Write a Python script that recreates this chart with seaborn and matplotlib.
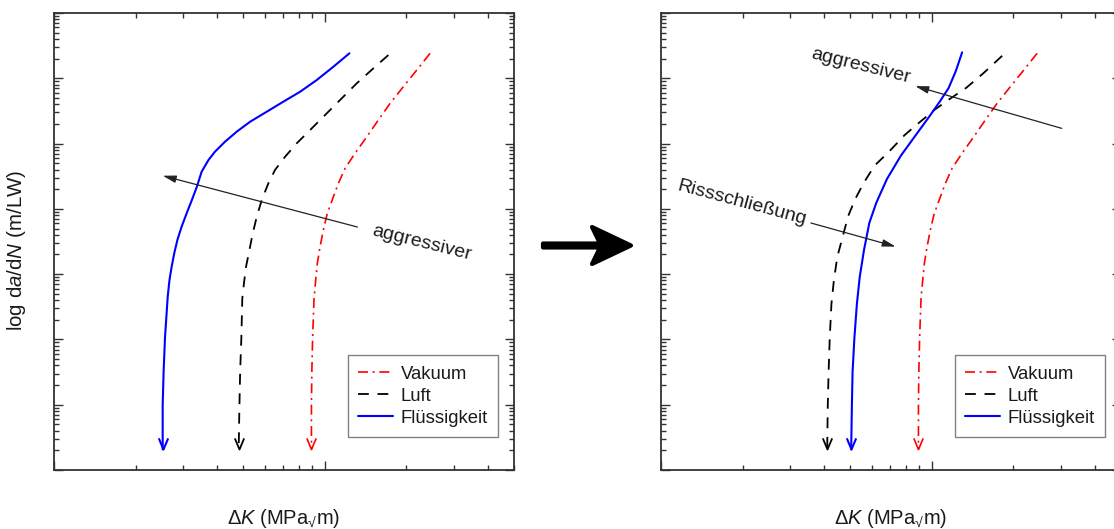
import numpy as np
import pandas as pd
import matplotlib
matplotlib.use("Agg")
import matplotlib.pyplot as plt
import seaborn as sns
from matplotlib.path import Path
from matplotlib.patches import Polygon
from matplotlib.ticker import LogLocator, NullFormatter

sns.set_theme(style="ticks")
plt.rcParams["font.family"] = ["Liberation Sans", "DejaVu Sans"]
plt.rcParams["mathtext.fontset"] = "custom"
plt.rcParams["mathtext.rm"] = "Liberation Sans"
plt.rcParams["mathtext.it"] = "Liberation Sans:italic"
plt.rcParams["mathtext.bf"] = "Liberation Sans:bold"

# ---- data: ΔK in MPa√m, da/dN in m/LW ----
media = ["Vakuum", "Luft", "Flüssigkeit"]

# Vakuum (identical in both panels)
vakuum_dk = [24.49, 21.87, 19.51, 17.43, 15.78, 14.30, 12.94, 11.89, 11.23,
             10.71, 10.22, 9.88, 9.61, 9.39, 9.26, 9.13, 9.02, 8.96, 8.93, 8.93]
vakuum_dadn = [2.41e-5, 1.336e-5, 7.43e-6, 4.13e-6, 2.30e-6, 1.274e-6,
               7.10e-7, 4.18e-7, 2.46e-7, 1.449e-7, 8.55e-8, 4.74e-8, 2.63e-8,
               1.466e-8, 8.13e-9, 4.27e-9, 1.06e-9, 3.21e-10, 9.75e-11, 2.07e-11]

# left panel: without crack closure
luft_dk_a = [17.18, 15.12, 13.13, 11.39, 10.03, 8.83, 7.88, 7.14, 6.55, 6.19,
             5.85, 5.61, 5.42, 5.27, 5.12, 5.03, 4.96, 4.92, 4.87, 4.84, 4.81]
luft_dadn_a = [2.27e-5, 1.419e-5, 8.38e-6, 4.65e-6, 2.74e-6, 1.614e-6,
               1.009e-6, 6.30e-7, 3.94e-7, 2.46e-7, 1.365e-7, 7.59e-8, 4.22e-8,
               2.34e-8, 1.30e-8, 7.24e-9, 4.27e-9, 1.06e-9, 3.21e-10, 9.75e-11,
               2.07e-11]
fluessig_dk_a = [12.33, 10.76, 9.34, 8.11, 7.03, 6.11, 5.30, 4.73, 4.28, 3.93,
                 3.72, 3.51, 3.37, 3.23, 3.09, 2.96, 2.855, 2.78, 2.72, 2.67,
                 2.63, 2.57, 2.54, 2.52, 2.52]
fluessig_dadn_a = [2.41e-5, 1.503e-5, 9.40e-6, 6.22e-6, 4.38e-6, 3.08e-6,
                   2.16e-6, 1.521e-6, 1.067e-6, 7.50e-7, 5.60e-7, 3.71e-7,
                   2.18e-7, 1.365e-7, 8.55e-8, 5.32e-8, 3.33e-8, 2.08e-8,
                   1.30e-8, 8.13e-9, 4.51e-9, 1.06e-9, 3.21e-10, 9.75e-11,
                   2.07e-11]

# right panel: with crack closure
luft_dk_b = [18.2, 15.6, 13.4, 11.55, 10.24, 9.08, 7.94, 6.93, 6.15, 5.62,
             5.21, 4.91, 4.69, 4.48, 4.35, 4.26, 4.20, 4.16, 4.13, 4.11]
luft_dadn_b = [2.21e-5, 1.22e-5, 7.13e-6, 4.70e-6, 3.29e-6, 2.17e-6, 1.35e-6,
               7.41e-7, 4.60e-7, 2.54e-7, 1.40e-7, 7.71e-8, 3.77e-8, 1.85e-8,
               8.02e-9, 3.48e-9, 1.06e-9, 3.21e-10, 9.75e-11, 2.07e-11]
fluessig_dk_b = [12.95, 12.27, 11.55, 10.72, 9.79, 8.82, 7.70, 6.83, 6.24,
                 5.88, 5.62, 5.42, 5.29, 5.18, 5.10, 5.07, 5.04]
fluessig_dadn_b = [2.50e-5, 1.29e-5, 7.13e-6, 4.43e-6, 2.59e-6, 1.43e-6,
                   6.58e-7, 2.86e-7, 1.24e-7, 6.08e-8, 2.34e-8, 9.04e-9,
                   3.48e-9, 1.06e-9, 3.21e-10, 9.75e-11, 2.07e-11]

panels = [
    {"Vakuum": (vakuum_dk, vakuum_dadn), "Luft": (luft_dk_a, luft_dadn_a),
     "Flüssigkeit": (fluessig_dk_a, fluessig_dadn_a)},
    {"Vakuum": (vakuum_dk, vakuum_dadn), "Luft": (luft_dk_b, luft_dadn_b),
     "Flüssigkeit": (fluessig_dk_b, fluessig_dadn_b)},
]

styles = {
    "Vakuum": dict(color="#ff0000", lw=1.2, ls=(0, (6.0, 2.8, 1.2, 2.8))),
    "Luft": dict(color="#000000", lw=1.3, ls=(0, (6.0, 4.8))),
    "Flüssigkeit": dict(color="#0000ff", lw=1.5, ls="-"),
}

# open "V" used as arrow tip at the lower end of each curve
vtip = Path([(-0.42, 1.0), (0.0, 0.0), (0.42, 1.0)],
            [Path.MOVETO, Path.LINETO, Path.LINETO])

W, H = 1114, 529
fig = plt.figure(figsize=(W / 100, H / 100), dpi=100)
ax_l = fig.add_axes([54 / W, 59 / H, 460 / W, 457 / H])
ax_r = fig.add_axes([661 / W, 59 / H, 460 / W, 457 / H])

txt_c = "#1a1a1a"
ax_c = "#333333"

for ax, curves in zip([ax_l, ax_r], panels):
    ax.set_xscale("log")
    ax.set_yscale("log")
    for name in media:
        dk, dadn = curves[name]
        st = styles[name]
        df = pd.DataFrame({"dk": dk, "dadn": dadn})
        sns.lineplot(data=df, x="dk", y="dadn", ax=ax, sort=False,
                     estimator=None, color=st["color"], linewidth=st["lw"],
                     linestyle=st["ls"], label=name)
        ax.plot(dk[-1:], dadn[-1:], linestyle="none", marker=vtip,
                markersize=16, markerfacecolor="none",
                markeredgecolor=st["color"], markeredgewidth=st["lw"])
    ax.set_xlim(1, 50)
    ax.set_ylim(1e-11, 1e-4)
    for axis, n in ((ax.xaxis, 10), (ax.yaxis, 20)):
        axis.set_major_locator(LogLocator(base=10, numticks=n))
        axis.set_minor_locator(LogLocator(base=10, subs=np.arange(2, 10), numticks=n))
        axis.set_major_formatter(NullFormatter())
        axis.set_minor_formatter(NullFormatter())
    ax.tick_params(which="both", direction="in", top=True, right=True,
                   bottom=True, left=True, labelbottom=False, labelleft=False,
                   color=ax_c, width=1.0)
    ax.tick_params(which="major", length=6.5)
    ax.tick_params(which="minor", length=3.3)
    for sp in ax.spines.values():
        sp.set_linewidth(1.3)
        sp.set_color(ax_c)
    ax.set_xlabel("$\\Delta K$ (MPa$_{\u221a}$m)", fontsize=14.5, color=txt_c)
    ax.xaxis.set_label_coords(0.5, -0.08)
    ax.set_ylabel("")
    leg = ax.legend(loc="lower right", bbox_to_anchor=(0.965, 0.072),
                    frameon=True, fancybox=False, edgecolor="#808080",
                    framealpha=1, fontsize=13.3, handlelength=1.9,
                    handletextpad=0.4, labelspacing=0.28, borderpad=0.55,
                    borderaxespad=0)
    leg.get_frame().set_linewidth(1.0)
    for t in leg.get_texts():
        t.set_color(txt_c)

ax_l.set_ylabel(r"log d$a$/d$N$ (m/LW)", fontsize=14.8, color=txt_c)
ax_l.yaxis.set_label_coords(-0.0565, 0.48)

arrow_kw = dict(arrowstyle="-|>,head_length=0.8,head_width=0.22",
                color="#222222", lw=0.9, shrinkA=0, shrinkB=0,
                mutation_scale=10)

# left panel: more aggressive environment shifts the curve to lower ΔK
ax_l.annotate("", xy=(2.52, 3.22e-7), xytext=(13.2, 5.27e-8), arrowprops=arrow_kw)
ax_l.text(22.7, 3.0e-8, "aggressiver", rotation=-14, rotation_mode="anchor",
          ha="center", va="center", fontsize=14, color=txt_c)

# right panel: crack closure counteracts the environmental shift
ax_r.annotate("", xy=(8.69, 7.59e-6), xytext=(30.2, 1.71e-6), arrowprops=arrow_kw)
ax_r.text(5.48, 1.56e-5, "aggressiver", rotation=-14, rotation_mode="anchor",
          ha="center", va="center", fontsize=14, color=txt_c)
ax_r.annotate("", xy=(7.36, 2.64e-8), xytext=(3.58, 6.07e-8), arrowprops=arrow_kw)
ax_r.text(1.99, 1.24e-7, "Rissschließung", rotation=-15, rotation_mode="anchor",
          ha="center", va="center", fontsize=14, color=txt_c)

# bold transition arrow between the panels (pixel layout, y downward)
arrow_px = [(543, 243.5), (600, 243.5), (592, 227), (631, 245.5),
            (592, 264), (600, 247.5), (543, 247.5)]
poly = Polygon([(x / W, (H - y) / H) for x, y in arrow_px], closed=True,
               facecolor="black", edgecolor="black", linewidth=3,
               joinstyle="round", capstyle="round", transform=fig.transFigure)
fig.add_artist(poly)

fig.savefig("out.png", dpi=100)
